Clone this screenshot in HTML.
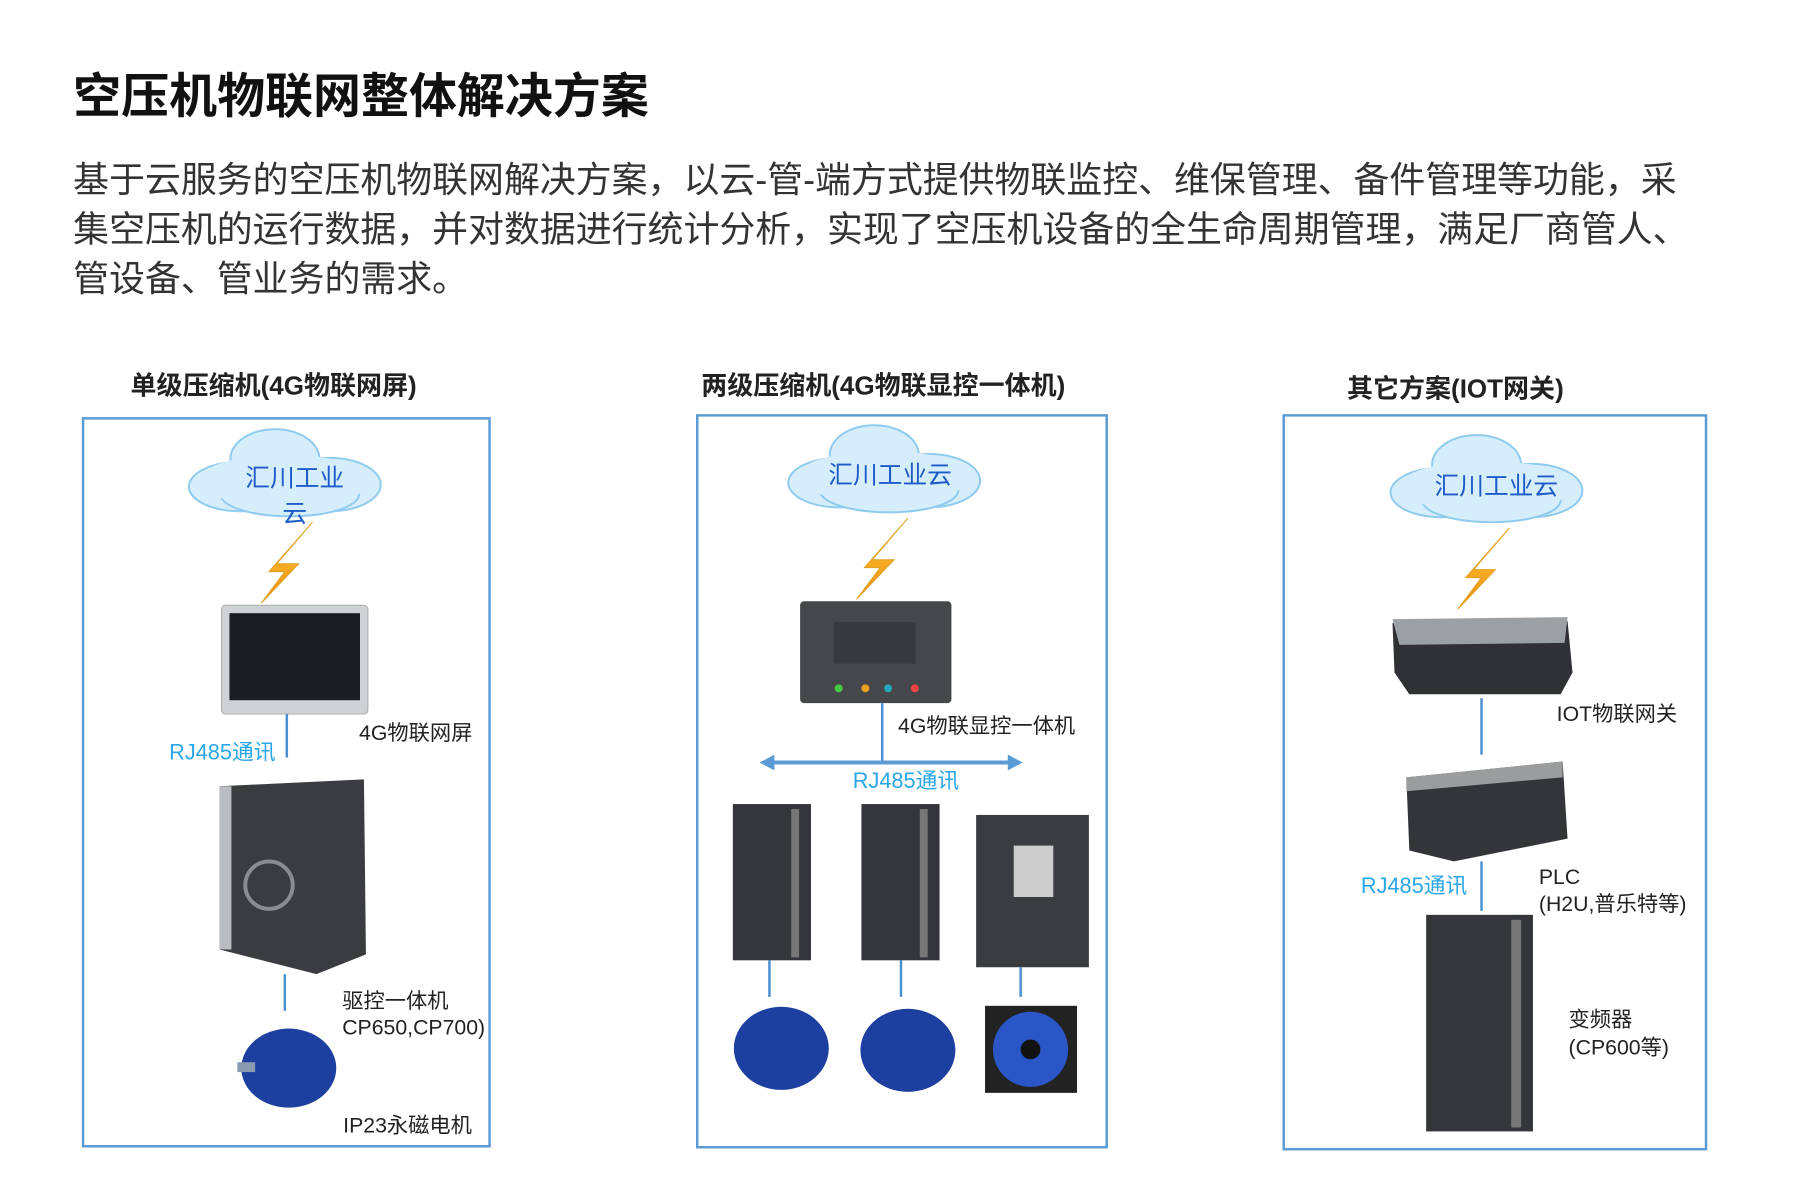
<!DOCTYPE html>
<html><head><meta charset="utf-8"><style>
html,body{margin:0;padding:0;background:#fff;}
body{width:1800px;height:1182px;position:relative;overflow:hidden;font-family:"Liberation Sans","Noto Sans CJK SC",sans-serif;}
#w{position:absolute;left:0;top:0;width:1820px;height:1200px;transform:scale(0.989);transform-origin:0 0;}
.t{position:absolute;white-space:nowrap;}
</style></head><body><div id="w">
<div class="t" style="left:74px;top:58px;font-size:48.5px;font-weight:bold;color:#111;">空压机物联网整体解决方案</div>
<div class="t" style="left:74px;top:157px;font-size:36.3px;line-height:50px;color:#333;">基于云服务的空压机物联网解决方案，以云-管-端方式提供物联监控、维保管理、备件管理等功能，采<br>集空压机的运行数据，并对数据进行统计分析，实现了空压机设备的全生命周期管理，满足厂商管人、<br>管设备、管业务的需求。</div>
<div class="t" style="left:132px;top:368px;font-size:26.3px;font-weight:bold;color:#222;">单级压缩机(4G物联网屏)</div>
<div class="t" style="left:709px;top:368px;font-size:26.3px;font-weight:bold;color:#222;">两级压缩机(4G物联显控一体机)</div>
<div class="t" style="left:1362px;top:371px;font-size:26.3px;font-weight:bold;color:#222;">其它方案(IOT网关)</div>
<svg width="1820" height="1200" style="position:absolute;left:0;top:0" xmlns="http://www.w3.org/2000/svg" font-family="Liberation Sans, Noto Sans CJK SC, sans-serif">
<defs>
<linearGradient id="lg" x1="0" y1="0" x2="0" y2="1"><stop offset="0" stop-color="#ffd23a"/><stop offset="1" stop-color="#f08a10"/></linearGradient>
<g id="cloud">
<ellipse cx="-45" cy="10" rx="52" ry="25" fill="#d6eefb" stroke="#8fcbee" stroke-width="2"/>
<ellipse cx="45" cy="8" rx="52" ry="27" fill="#d6eefb" stroke="#8fcbee" stroke-width="2"/>
<ellipse cx="-10" cy="-18" rx="45" ry="30" fill="#d6eefb" stroke="#8fcbee" stroke-width="2"/>
<ellipse cx="5" cy="18" rx="70" ry="22" fill="#d6eefb" stroke="#8fcbee" stroke-width="2"/>
<ellipse cx="0" cy="4" rx="88" ry="26" fill="#d6eefb"/>
</g>
<polygon id="bolt" points="28,0 -8,42 14,42 -24,82 0,50 -16,50 " fill="url(#lg)" stroke="#e0a020" stroke-width="1"/>
</defs>
<g fill="none" stroke="#5b9bd5" stroke-width="2.5">
<rect x="84" y="423" width="411" height="736"/>
<rect x="705" y="420" width="414" height="740"/>
<rect x="1298" y="420" width="427" height="742"/>
</g>
<!-- box1 -->
<use href="#cloud" x="288" y="482"/>
<text x="298" y="492" font-size="25" fill="#1f5cc8" text-anchor="middle">汇川工业</text>
<text x="298" y="528" font-size="25" fill="#1f5cc8" text-anchor="middle">云</text>
<use href="#bolt" x="288" y="528"/>
<rect x="224" y="612" width="148" height="110" rx="4" fill="#cfd2d4" stroke="#aaa"/>
<rect x="232" y="620" width="132" height="88" fill="#1c1d20"/>
<line x1="290" y1="722" x2="290" y2="766" stroke="#4a90d0" stroke-width="2.5"/>
<text x="171" y="768" font-size="22" fill="#2aa6e6">RJ485通讯</text>
<text x="363" y="748" font-size="21.5" fill="#222">4G物联网屏</text>
<polygon points="222,795 368,788 370,965 320,985 222,960" fill="#3a3c40"/>
<rect x="222" y="795" width="12" height="165" fill="#b9bcc0"/>
<circle cx="272" cy="895" r="24" fill="none" stroke="#8a8c90" stroke-width="4"/>
<line x1="288" y1="985" x2="288" y2="1022" stroke="#4a90d0" stroke-width="2.5"/>
<ellipse cx="292" cy="1080" rx="48" ry="40" fill="#1d3fa0"/>
<rect x="240" y="1074" width="18" height="10" fill="#8a9ab0"/>
<text x="346" y="1019" font-size="21.5" fill="#222">驱控一体机</text>
<text x="346" y="1046" font-size="21.5" fill="#222">CP650,CP700)</text>
<text x="347" y="1145" font-size="21.5" fill="#222">IP23永磁电机</text>
<!-- box2 -->
<use href="#cloud" x="894" y="478"/>
<text x="900" y="489" font-size="25" fill="#1f5cc8" text-anchor="middle">汇川工业云</text>
<use href="#bolt" x="890" y="524"/>
<rect x="809" y="608" width="153" height="103" rx="4" fill="#46474a"/>
<rect x="843" y="629" width="83" height="42" fill="#38393c"/>
<circle cx="848" cy="696" r="4" fill="#4c4"/><circle cx="875" cy="696" r="4" fill="#e9a020"/><circle cx="898" cy="696" r="4" fill="#2ab"/><circle cx="925" cy="696" r="4" fill="#e44"/>
<line x1="892" y1="711" x2="892" y2="771" stroke="#4a90d0" stroke-width="2.5"/>
<line x1="780" y1="771" x2="1022" y2="771" stroke="#5b9bd5" stroke-width="4"/>
<polygon points="768,771 783,763 783,779" fill="#5b9bd5"/><polygon points="1034,771 1019,763 1019,779" fill="#5b9bd5"/>
<text x="908" y="741" font-size="21.5" fill="#222">4G物联显控一体机</text>
<text x="916" y="797" font-size="22" fill="#2aa6e6" text-anchor="middle">RJ485通讯</text>
<rect x="741" y="813" width="79" height="158" fill="#34363a"/><rect x="800" y="818" width="8" height="150" fill="#777"/>
<rect x="871" y="813" width="79" height="158" fill="#34363a"/><rect x="930" y="818" width="8" height="150" fill="#777"/>
<rect x="987" y="824" width="114" height="154" fill="#3a3c40"/>
<rect x="1025" y="855" width="40" height="52" fill="#ccc"/>
<g stroke="#4a90d0" stroke-width="2.5"><line x1="778" y1="971" x2="778" y2="1008"/><line x1="911" y1="971" x2="911" y2="1008"/><line x1="1032" y1="978" x2="1032" y2="1008"/></g>
<ellipse cx="790" cy="1060" rx="48" ry="42" fill="#1d3fa0"/>
<ellipse cx="918" cy="1062" rx="48" ry="42" fill="#1d3fa0"/>
<rect x="996" y="1017" width="93" height="88" fill="#222"/>
<circle cx="1042" cy="1061" r="38" fill="#2a56c8"/><circle cx="1042" cy="1061" r="10" fill="#111"/>
<!-- box3 -->
<use href="#cloud" x="1503" y="488"/>
<text x="1513" y="500" font-size="25" fill="#1f5cc8" text-anchor="middle">汇川工业云</text>
<use href="#bolt" x="1498" y="534"/>
<polygon points="1408,630 1585,628 1590,680 1578,702 1425,702 1410,680" fill="#2f3134"/>
<polygon points="1408,626 1585,624 1582,650 1415,652" fill="#9aa0a4"/>
<line x1="1498" y1="706" x2="1498" y2="763" stroke="#4a90d0" stroke-width="2.5"/>
<text x="1574" y="729" font-size="21.5" fill="#222">IOT物联网关</text>
<polygon points="1422,786 1580,770 1585,848 1470,871 1425,860" fill="#333539"/>
<polygon points="1422,786 1580,770 1580,786 1422,800" fill="#9a9c9e"/>
<text x="1376" y="903" font-size="22" fill="#2aa6e6">RJ485通讯</text>
<line x1="1498" y1="871" x2="1498" y2="921" stroke="#4a90d0" stroke-width="2.5"/>
<text x="1556" y="894" font-size="21.5" fill="#222">PLC</text>
<text x="1556" y="921" font-size="21.5" fill="#222">(H2U,普乐特等)</text>
<rect x="1442" y="925" width="108" height="219" fill="#34363a"/><rect x="1528" y="930" width="10" height="210" fill="#777"/>
<text x="1586" y="1038" font-size="21.5" fill="#222">变频器</text>
<text x="1586" y="1066" font-size="21.5" fill="#222">(CP600等)</text>
</svg>
</div></body></html>
